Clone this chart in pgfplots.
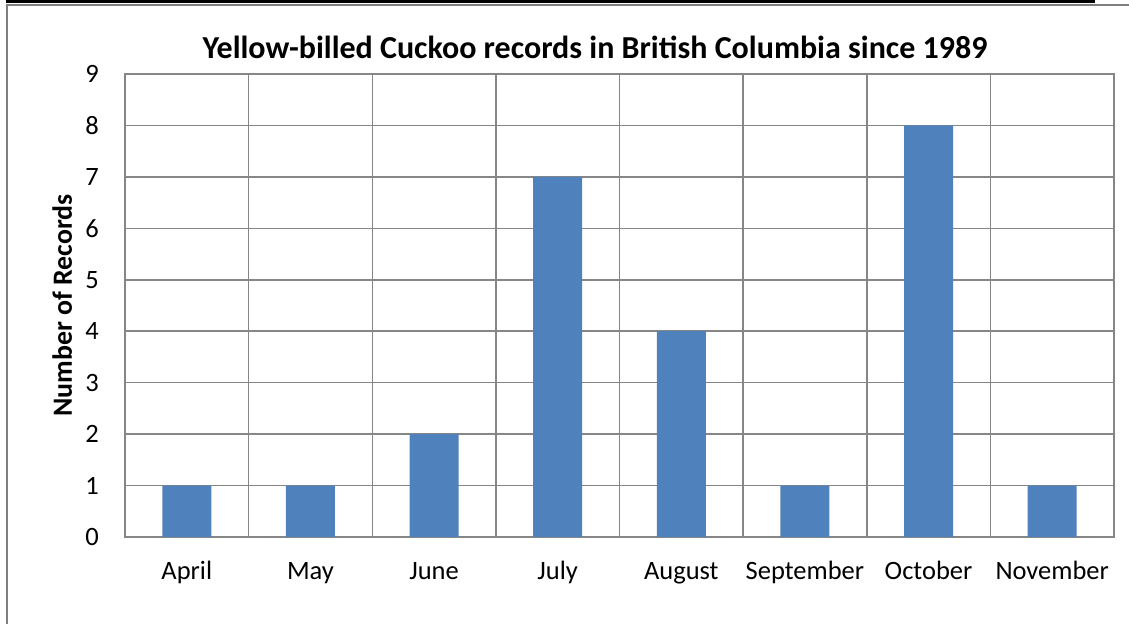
\documentclass[border=0pt]{standalone}
\usepackage{fontspec}
\setmainfont{Carlito}
\usepackage{pgfplots}
\pgfplotsset{compat=1.18}
\definecolor{barblue}{HTML}{4F81BD}
\definecolor{gridgray}{HTML}{868686}
\definecolor{framegray}{HTML}{7F7F7F}

\begin{document}
\begin{tikzpicture}
\path[use as bounding box, fill=white] (0,0) rectangle (1129bp,624bp);
\fill[black] (6bp,620.5bp) rectangle (1095bp,624bp);
\draw[framegray, line width=1.5bp] (7bp,0) -- (7bp,619bp) -- (1129bp,619bp);
\begin{axis}[
  at={(125bp,87bp)}, anchor=south west,
  width=989bp, height=463bp, scale only axis,
  xmin=-0.5, xmax=7.5, ymin=0, ymax=9,
  xtick={0,...,7},
  xticklabels={April,May,June,July,August,September,October,November},
  minor xtick={-0.5,0.5,...,7.5},
  ytick={0,...,9},
  xminorgrids, ymajorgrids,
  major tick length=0, minor tick length=0,
  axis line style={gridgray, line width=1.5bp},
  grid style={gridgray, line width=1.5bp},
  minor grid style={gridgray, line width=1.5bp},
  tick label style={font=\fontsize{26.5bp}{30bp}\selectfont},
  /pgf/number format/assume math mode=true,
  xticklabel style={anchor=base, inner sep=0pt, yshift=-42bp},
  yticklabel style={anchor=east, inner sep=0pt, xshift=-26bp},
  ylabel={Number of Records},
  ylabel style={font=\bfseries\fontsize{27.8bp}{32bp}\selectfont,
    at={(axis description cs:-0.0536,0.5)}, anchor=base},
  title={Yellow-billed Cuckoo records in British Columbia since 1989},
  title style={font=\bfseries\fontsize{32bp}{36bp}\selectfont,
    at={(axis description cs:0.4752,1.0216)}, anchor=base, inner sep=0pt},
]
\addplot[ybar, fill=barblue, draw=none, bar width=49bp] coordinates {
  (0,1) (1,1) (2,2) (3,7) (4,4) (5,1) (6,8) (7,1)
};
\end{axis}
\end{tikzpicture}
\end{document}
